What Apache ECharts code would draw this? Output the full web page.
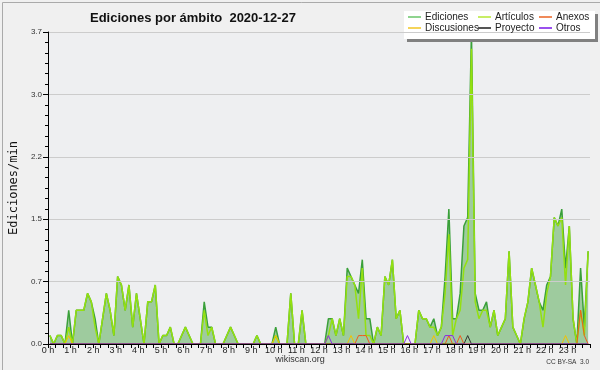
<!DOCTYPE html>
<html><head><meta charset="utf-8">
<script src="https://cdn.jsdelivr.net/npm/echarts@6/dist/echarts.min.js"></script>
<style>html,body{margin:0;padding:0;background:#f0f0f0}#c{width:600px;height:370px}</style>
</head><body><div id="c"></div>
<script>
// 10-minute bins, values in edits per minute
const ediciones = [
0.1,0,0.1,0.1,0,0.4,0,0.4,0.4,0.4,0.6,0.5,
0.3,0,0.3,0.6,0.4,0.1,0.8,0.7,0.4,0.7,0.2,0.6,
0.3,0,0.5,0.5,0.7,0,0.1,0.1,0.2,0,0,0.1,
0.2,0.1,0,0,0,0.5,0.2,0.2,0,0,0,0.1,
0.2,0.1,0,0,0,0,0,0.1,0,0,0,0,
0.2,0,0,0,0.6,0,0,0.4,0,0,0,0,
0,0,0.3,0.3,0.1,0.3,0.1,0.9,0.8,0.7,0.6,1.0,
0.3,0.3,0,0.2,0.1,0.8,0.7,1.0,0.3,0.4,0,0,
0,0,0.4,0.3,0.3,0.2,0.3,0.1,0.2,0.8,1.6,0.3,
0.3,0.6,1.4,1.5,3.7,0.6,0.4,0.4,0.5,0.2,0.4,0.1,
0.2,0.3,1.1,0.2,0.1,0,0.3,0.5,0.9,0.7,0.5,0.4,
0.7,0.8,1.5,1.4,1.6,0.9,1.4,0.3,0,0.9,0.2,1.1
];
const articulos = [
0.1,0,0.1,0.1,0,0.2,0,0.4,0.4,0.4,0.6,0.5,
0.2,0,0.3,0.6,0.4,0.1,0.8,0.7,0.4,0.7,0.2,0.6,
0.3,0,0.5,0.5,0.7,0,0.1,0.1,0.2,0,0,0.1,
0.2,0.1,0,0,0,0.4,0.1,0.2,0,0,0,0.1,
0.2,0.1,0,0,0,0,0,0.1,0,0,0,0,
0.1,0,0,0,0.6,0,0,0.4,0,0,0,0,
0,0,0.1,0.3,0.1,0.3,0.1,0.8,0.8,0.7,0.3,0.9,
0.1,0.1,0,0.2,0.1,0.8,0.7,1.0,0.3,0.4,0,0,
0,0,0.4,0.3,0.3,0.2,0.2,0.1,0.2,0.6,1.3,0.1,
0.3,0.4,0.9,1.0,3.5,0.5,0.3,0.4,0.4,0.2,0.4,0.1,
0.2,0.3,1.1,0.2,0.1,0,0.3,0.5,0.9,0.7,0.5,0.2,
0.6,0.8,1.5,1.4,1.5,0.7,1.4,0.3,0,0.4,0.1,1.1
];
const anexos = [
0,0,0,0,0,0,0,0,0,0,0,0,
0,0,0,0,0,0,0,0,0,0,0,0,
0,0,0,0,0,0,0,0,0,0,0,0,
0,0,0,0,0,0,0,0,0,0,0,0,
0,0,0,0,0,0,0,0,0,0,0,0,
0,0,0,0,0,0,0,0,0,0,0,0,
0,0,0,0,0,0,0,0,0,0,0.1,0.1,
0.1,0,0,0,0,0,0,0,0,0,0,0,
0,0,0,0,0,0,0,0,0,0,0.1,0,
0,0.1,0,0,0,0,0,0,0,0,0,0,
0,0,0,0,0,0,0,0,0,0,0,0,
0,0,0,0,0,0,0,0,0,0.4,0.1,0
];
const discusiones = [
0,0,0,0,0,0.1,0,0,0,0,0,0,
0,0,0,0,0,0,0,0,0,0,0,0,
0,0,0,0,0,0,0,0,0,0,0,0,
0,0,0,0,0,0,0,0,0,0,0,0,
0,0,0,0,0,0,0,0,0,0,0,0,
0.1,0,0,0,0,0,0,0,0,0,0,0,
0,0,0,0,0,0,0,0,0.1,0,0,0,
0,0,0,0,0,0,0,0,0,0,0,0,
0,0,0,0,0,0,0.1,0,0,0,0,0,
0,0,0,0,0,0,0,0,0,0,0,0,
0,0,0,0,0,0,0,0,0,0,0,0,
0,0,0,0,0,0.1,0,0,0,0,0,0
];
const proyecto = [
0,0,0,0,0,0,0,0,0,0,0,0,
0,0,0,0,0,0,0,0,0,0,0,0,
0,0,0,0,0,0,0,0,0,0,0,0,
0,0,0,0,0,0,0,0,0,0,0,0,
0,0,0,0,0,0,0,0,0,0,0,0,
0,0,0,0,0,0,0,0,0,0,0,0,
0,0,0,0,0,0,0,0,0,0,0,0,
0,0,0,0,0,0,0,0,0,0,0,0,
0,0,0,0,0,0,0,0,0,0,0,0,
0,0,0,0.1,0,0,0,0,0,0,0,0,
0,0,0,0,0,0,0,0,0,0,0,0,
0,0,0,0,0,0,0,0,0,0,0,0
];
const otros = [
0,0,0,0,0,0,0,0,0,0,0,0,
0,0,0,0,0,0,0,0,0,0,0,0,
0,0,0,0,0,0,0,0,0,0,0,0,
0,0,0,0,0,0,0,0,0,0,0,0,
0,0,0,0,0,0,0,0,0,0,0,0,
0,0,0,0,0,0,0,0,0,0,0,0,
0,0,0.1,0,0,0,0,0,0,0,0,0,
0,0,0,0,0,0,0,0,0,0,0,0.1,
0,0,0,0,0,0,0,0,0,0.1,0.1,0.1,
0,0,0,0,0,0,0,0,0,0,0,0,
0,0,0,0,0,0,0,0,0,0,0,0,
0,0,0,0,0,0,0,0,0,0,0,0
];
const binMinutes = 10;
const titleText = 'Ediciones por ámbito  2020-12-27';

const pts = arr => arr.map((v, i) => [i * binMinutes + binMinutes / 2, v]);
const F = 'Liberation Sans';
const chart = echarts.init(document.getElementById('c'));
const lineS = (name, data, color, w, z) => ({
  name, type: 'line', data: pts(data), symbol: 'none', z,
  lineStyle: { color, width: w }, itemStyle: { color }, animation: false
});
const legendBase = {
  orient: 'vertical', top: 12, itemGap: 1, itemWidth: 13, itemHeight: 2, icon: 'rect',
  textStyle: { fontFamily: F, fontSize: 10, color: '#222', padding: [0, 0, 0, -1] },
  selectedMode: false, z: 20, padding: 0
};
chart.setOption({
  backgroundColor: '#f0f0f0',
  animation: false,
  title: { text: titleText, left: 85, top: 7, textStyle: { fontFamily: F, fontSize: 13, fontWeight: 'bold', color: '#111' } },
  graphic: [
    { type: 'rect', left: 0, top: 0, z: -10, shape: { width: 599, height: 369 }, style: { fill: 'none', stroke: '#aaa', lineWidth: 1 } },
    { type: 'rect', left: 404, top: 11, z: 10, shape: { width: 191, height: 28 }, style: { fill: '#fff', shadowColor: '#808080', shadowOffsetX: 3, shadowOffsetY: 3, shadowBlur: 0 } },
    { type: 'text', left: 'center', top: 355, style: { text: 'wikiscan.org', font: '9px "Liberation Sans"', fill: '#333' } },
    { type: 'text', right: 11, top: 359, style: { text: 'CC BY-SA  3.0', font: '6.5px "Liberation Sans"', fill: '#333' } }
  ],
  legend: [
    Object.assign({}, legendBase, { left: 408, data: [
      { name: 'Ediciones', itemStyle: { color: '#8fd48f' } },
      { name: 'Discusiones', itemStyle: { color: '#f5d45a' } }] }),
    Object.assign({}, legendBase, { left: 478, data: [
      { name: 'Artículos', itemStyle: { color: '#c8ee66' } },
      { name: 'Proyecto', itemStyle: { color: '#555' } }] }),
    Object.assign({}, legendBase, { left: 539, data: [
      { name: 'Anexos', itemStyle: { color: '#f08a5a' } },
      { name: 'Otros', itemStyle: { color: '#9a50ee' } }] })
  ],
  grid: { left: 45, right: 10, top: 32, bottom: 26, show: true, backgroundColor: '#eeeff1', borderWidth: 0 },
  xAxis: {
    type: 'value', min: 0, max: 1440, interval: 60, z: 10,
    axisLine: { lineStyle: { color: '#000', width: 1 } },
    axisTick: { show: true, length: 4, lineStyle: { color: '#000' } },
    minorTick: { show: true, splitNumber: 3, length: 4, lineStyle: { color: '#000' } },
    splitLine: { show: false },
    axisLabel: { fontFamily: F, fontSize: 9, color: '#222', margin: 2, showMaxLabel: false,
      formatter: v => (v < 1440 ? (v / 60) + ' h' : '') }
  },
  yAxis: {
    type: 'value', min: 0, max: 3.7, interval: 0.74, z: 10,
    name: 'Ediciones/min', nameLocation: 'middle', nameGap: 28, nameRotate: 90,
    nameTextStyle: { fontFamily: 'DejaVu Sans Mono', fontSize: 12, color: '#111' },
    axisLine: { show: true, lineStyle: { color: '#000', width: 1 } },
    axisTick: { show: true, inside: false, length: 5, lineStyle: { color: '#000' } },
    minorTick: { show: true, splitNumber: 6, length: 3, lineStyle: { color: '#000' } },
    splitLine: { show: true, lineStyle: { color: '#cccccc', width: 1 } },
    axisLabel: { fontFamily: F, fontSize: 8, color: '#333', margin: 6, formatter: v => v.toFixed(1) }
  },
  series: [
    Object.assign(lineS('Ediciones', ediciones, '#3aa03a', 1.5, 2), { areaStyle: { color: '#9ecb9e', opacity: 1 } }),
    lineS('Artículos', articulos, '#94e010', 1.5, 3),
    lineS('Anexos', anexos, '#f05a1e', 1, 4),
    lineS('Discusiones', discusiones, '#f2c200', 1, 4),
    lineS('Proyecto', proyecto, '#333', 1, 4),
    lineS('Otros', otros, '#8a2be2', 1, 4)
  ]
});
</script></body></html>
